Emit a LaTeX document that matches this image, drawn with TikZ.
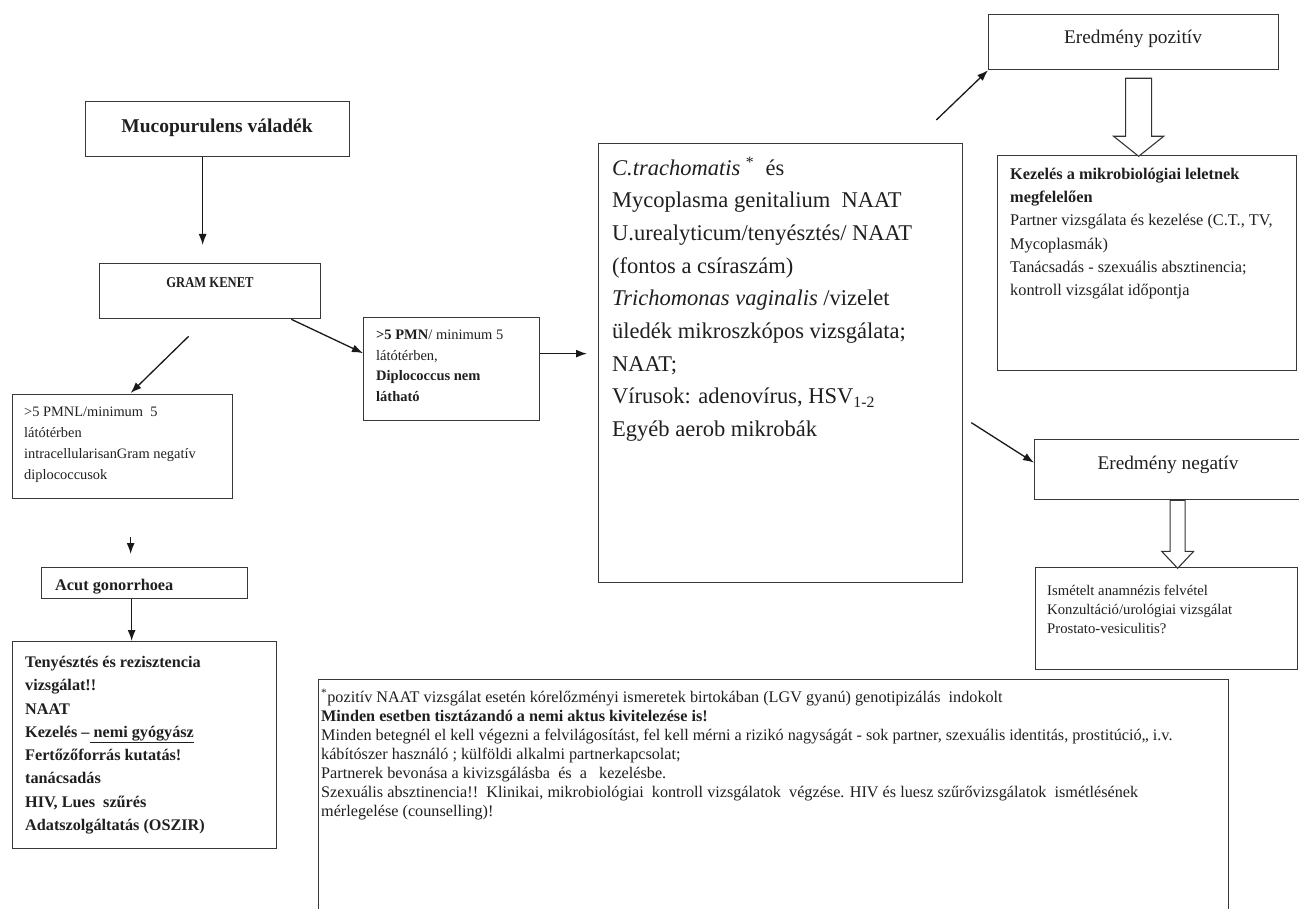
\documentclass[tikz,border=0pt]{standalone}
\usepackage{fontspec}
\setmainfont{Liberation Serif}
\usetikzlibrary{arrows.meta,calc}
\begin{document}
\begin{tikzpicture}[x=1pt,y=-1pt,
  box/.style={draw=black!78, line width=1.3pt, anchor=north west, inner sep=0pt},
  txt/.style={anchor=north west, inner sep=0pt, align=left, text=black!88},
  ctr/.style={inner sep=0pt, text=black!88},
  arr/.style={-{Latex[length=11pt,width=8pt]}, line width=1.3pt, draw=black!90},
  hollow/.style={draw=black!80, line width=1.1pt, fill=white, line join=miter}]
\useasboundingbox (0,0) rectangle (1299,909);

% left column
\node[box, minimum width=264pt, minimum height=55pt] (muco) at (85,101) {};
\node[ctr, font=\bfseries\fontsize{19.5}{23}\selectfont] (mucot) at (217,128) {Mucopurulens váladék};

\node[box, minimum width=221pt, minimum height=55pt] (gram) at (99,263) {};
\node[ctr, font=\bfseries\fontsize{15}{17}\selectfont] (gramt) at (210,283) {\scalebox{0.84}[1]{GRAM KENET}};

\node[box, minimum width=220pt, minimum height=104pt] (pmnl) at (12,394) {};
\node[txt, font=\fontsize{14.4}{21}\selectfont] (pmnlt) at (24,407) {>5 PMNL/minimum\ \ 5\\ látótérben\\ intracellularisanGram negatív\\ diplococcusok};

\node[box, minimum width=206pt, minimum height=31pt] (acut) at (41,567) {};
\node[anchor=base west, inner sep=0pt, text=black!88, font=\bfseries\fontsize{16.3}{20}\selectfont] (acutt) at (55,590) {Acut gonorrhoea};

\node[box, minimum width=264pt, minimum height=207pt] (teny) at (12,641) {};
\node[txt, font=\bfseries\fontsize{16.2}{23.3}\selectfont] (tenyt) at (25,656) {Tenyésztés és rezisztencia\\ vizsgálat!!\\ NAAT\\ Kezelés –\underline{\ nemi gyógyász}\\ Fertőzőforrás kutatás!\\ tanácsadás\\ HIV, Lues\ \ szűrés\\ Adatszolgáltatás (OSZIR)};

% middle
\node[box, minimum width=176pt, minimum height=103pt] (pmn) at (363,317) {};
\node[txt, font=\fontsize{14.5}{20.5}\selectfont] (pmnt) at (376,330) {\textbf{>5 PMN}/ minimum 5\\ látótérben,\\ \textbf{Diplococcus nem}\\ \textbf{látható}};

\node[box, minimum width=364pt, minimum height=439pt] (cbox) at (598,143) {};
\node[txt, font=\fontsize{22.5}{32.7}\selectfont] (cboxt) at (612,157) {\textit{C.trachomatis} \textsuperscript{*}\ \ és\\ Mycoplasma genitalium\ \ NAAT\\ U.urealyticum/tenyésztés/ NAAT\\ (fontos a csíraszám)\\ \textit{Trichomonas vaginalis} /vizelet\\ üledék mikroszkópos vizsgálata;\\ NAAT;\\ Vírusok: adenovírus, HSV\textsubscript{1-2}\\ Egyéb aerob mikrobák};

% right column
\node[box, minimum width=290pt, minimum height=55pt] (pos) at (988,14) {};
\node[ctr, font=\fontsize{19.3}{23}\selectfont] (post) at (1133,39) {Eredmény pozitív};

\node[box, minimum width=299pt, minimum height=215pt] (kez) at (997,155) {};
\node[txt, font=\fontsize{16.3}{23.2}\selectfont] (kezt) at (1010,168) {\textbf{Kezelés a mikrobiológiai leletnek}\\ \textbf{megfelelően}\\ Partner vizsgálata és kezelése (C.T., TV,\\ Mycoplasmák)\\ Tanácsadás - szexuális absztinencia;\\ kontroll vizsgálat időpontja};

\node[box, minimum width=266pt, minimum height=60pt] (neg) at (1034,439) {};
\node[ctr, font=\fontsize{19.3}{23}\selectfont] (negt) at (1168,465) {Eredmény negatív};

\node[box, minimum width=262pt, minimum height=102pt] (ism) at (1035,567) {};
\node[txt, font=\fontsize{14.7}{19}\selectfont] (ismt) at (1047,585) {Ismételt anamnézis felvétel\\ Konzultáció/urológiai vizsgálat\\ Prostato-vesiculitis?};

% footnote box
\node[box, minimum width=910pt, minimum height=260pt] (foot) at (318,679) {};
\node[txt, font=\fontsize{16.2}{19}\selectfont] (foott) at (321,689) {\textsuperscript{*}pozitív NAAT vizsgálat esetén kórelőzményi ismeretek birtokában (LGV gyanú) genotipizálás\ \ indokolt\\
\textbf{Minden esetben tisztázandó a nemi aktus kivitelezése is!}\\
Minden betegnél el kell végezni a felvilágosítást, fel kell mérni a rizikó nagyságát - sok partner, szexuális identitás, prostitúció,, i.v.\\
kábítószer használó ; külföldi alkalmi partnerkapcsolat;\\
Partnerek bevonása a kivizsgálásba\ \ és\ \ a\ \ \ kezelésbe.\\
Szexuális absztinencia!!\ \ Klinikai, mikrobiológiai\ \ kontroll vizsgálatok\ \ végzése. HIV és luesz szűrővizsgálatok\ \ ismétlésének\\
mérlegelése (counselling)!};

% connectors
\draw[arr] ([xshift=-15pt]muco.south) -- ([xshift=-7.5pt,yshift=18pt]gram.north);
\draw[arr] ([xshift=-21.5pt,yshift=-17pt]gram.south) -- ([xshift=8pt,yshift=1pt]pmnl.north);
\draw[arr] ([xshift=-30pt]gram.south east) -- ([yshift=16pt]pmn.west);
\draw[arr] ([xshift=8pt,yshift=-38pt]pmnl.south) -- ([xshift=-14pt,yshift=13pt]acut.north);
\draw[arr] ([xshift=-13pt]acut.south) -- ([xshift=-13pt]teny.north);
\draw[arr] ([yshift=15.5pt]pmn.east) -- ([xshift=-11pt,yshift=9.5pt]cbox.west);
\draw[arr] ([xshift=-27pt,yshift=23pt]cbox.north east) -- (pos.south west);
\draw[arr] ([xshift=8pt,yshift=-59.5pt]cbox.east) -- ([yshift=7pt]neg.west);

% hollow block arrows
\draw[hollow, shift={(pos.south)}] (-8,8) -- (-8,66) -- (-20,66) -- (5,86) -- (30,66) -- (18,66) -- (18,8) -- cycle;
\draw[hollow, shift={(neg.south)}] (2.5,0) -- (2.5,51) -- (-6,51) -- (10,68) -- (26,51) -- (17.5,51) -- (17.5,0) -- cycle;
\end{tikzpicture}
\end{document}
